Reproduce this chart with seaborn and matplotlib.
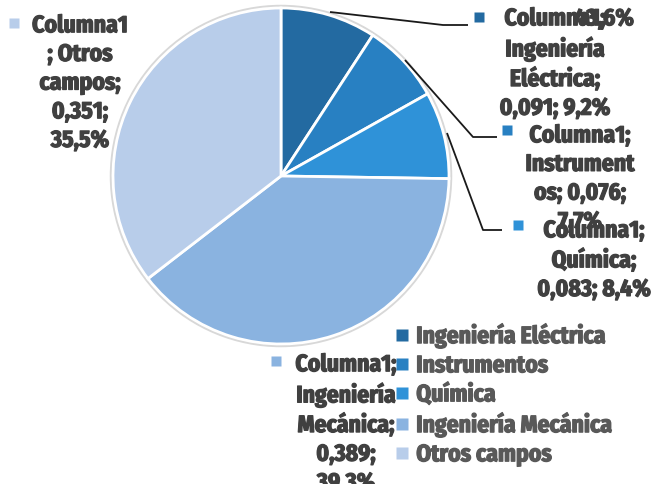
import matplotlib.patheffects as pe
import matplotlib.pyplot as plt
import seaborn as sns
from matplotlib import font_manager
from matplotlib.lines import Line2D
from matplotlib.patches import Circle

# ── Data ───────────────────────────────────────────────────────────────
series_name = "Columna1"
categories = ["Ingeniería Eléctrica", "Instrumentos", "Química",
              "Ingeniería Mecánica", "Otros campos"]
values = [0.091, 0.076, 0.083, 0.389, 0.351]
percent_labels = ["9,2%", "7,7%", "8,4%", "39,3%", "35,5%"]
value_labels = ["0,091", "0,076", "0,083", "0,389", "0,351"]
colors = ["#236aa1", "#2880c2", "#2f92d8", "#8ab3e0", "#b8cdea"]

sns.set_theme(style="white")

# pick a narrow face if one is installed
fonts = font_manager.fontManager.ttflist
names = {f.name for f in fonts}
stretch = "normal"
family, FS = "Roboto", 15.5
for cand in ["Fira Sans Condensed", "Liberation Sans Narrow",
             "Roboto Condensed", "Open Sans Condensed"]:
    if cand in names:
        family, FS = cand, 17
        break
else:
    if any(f.name == "DejaVu Sans" and f.stretch == "condensed"
           for f in fonts):
        family, FS, stretch = "DejaVu Sans", 16.5, "condensed"
plt.rcParams["font.family"] = [family, "DejaVu Sans"]
plt.rcParams["font.weight"] = "bold"
plt.rcParams["font.stretch"] = stretch

TEXT = "#404040"
LEGEND_TEXT = "#595959"

fig = plt.figure(figsize=(6.52, 4.84), dpi=100)
ax = fig.add_axes([0, 0, 1, 1])

center = (281, 176)
radius = 168

# soft outline around the pie
ax.add_patch(Circle(center, radius + 1.5, facecolor="none",
                    edgecolor="#d8d8d8", lw=2.5, zorder=0))

wedges, _ = ax.pie(values, colors=colors, startangle=-90, counterclock=True,
                   center=center, radius=radius, frame=True,
                   wedgeprops=dict(edgecolor="white", linewidth=2))
ax.set_xlim(0, 652)
ax.set_ylim(484, 0)
ax.set_aspect("equal")
ax.axis("off")


def heavy(color):
    return [pe.withStroke(linewidth=0.9, foreground=color)]


# data labels: (marker x, marker y, text center x, text top y, lines)
label_specs = [
    (479, 17, 555, 7, [f"{series_name};", "Ingeniería", "Eléctrica;",
                       f"{value_labels[0]}; {percent_labels[0]}"]),
    (507, 130, 580, 124, [f"{series_name};", "Instrument",
                          f"os; {value_labels[1]};", percent_labels[1]]),
    (518, 225, 594, 219, [f"{series_name};", "Química;",
                          f"{value_labels[2]}; {percent_labels[2]}"]),
    (276, 361, 346, 353, [f"{series_name};", "Ingeniería", "Mecánica;",
                          f"{value_labels[3]};", percent_labels[3]]),
    (14, 23, 80, 14, [series_name, "; Otros", "campos;",
                      f"{value_labels[4]};", percent_labels[4]]),
]
for (mx, my, tx, ty, lines), color in zip(label_specs, colors):
    ax.plot(mx, my, marker="s", ms=7, color=color, mec="none",
            clip_on=False)
    ax.text(tx, ty, "\n".join(lines), ha="center", va="top", fontsize=FS,
            color=TEXT, fontweight="bold", linespacing=1.31,
            path_effects=heavy(TEXT))

# overlapping stray text near the top label
ax.text(604, 7, "43,6%", ha="center", va="top", fontsize=FS,
        color=TEXT, fontweight="bold", path_effects=heavy(TEXT))

# leader lines
leaders = [
    [(330, 12), (443, 25), (468, 25)],
    [(405, 60), (473, 137), (497, 137)],
    [(447, 133), (483, 230), (502, 230)],
]
for pts in leaders:
    xs, ys = zip(*pts)
    ax.plot(xs, ys, color="#1a1a1a", lw=1.3, solid_capstyle="butt")

# legend
handles = [Line2D([], [], marker="s", ls="none", ms=8, color=c, mec="none")
           for c in colors]
leg = ax.legend(handles, categories, loc="upper left",
                bbox_to_anchor=(395 / 652, 1 - 323 / 484), frameon=False,
                fontsize=FS, labelspacing=0.25, handlelength=0.6,
                handletextpad=0.3, borderpad=0, borderaxespad=0)
for t in leg.get_texts():
    t.set_color(LEGEND_TEXT)
    t.set_fontweight("bold")
    t.set_path_effects(heavy(LEGEND_TEXT))

fig.savefig("out.png", dpi=100)
